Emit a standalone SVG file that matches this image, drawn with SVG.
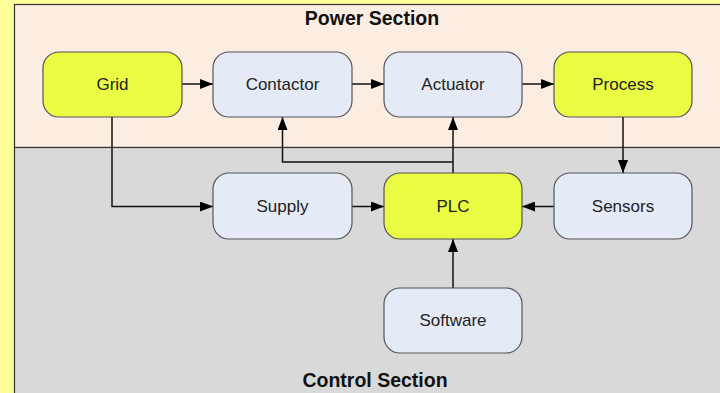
<svg xmlns="http://www.w3.org/2000/svg" width="720" height="393" viewBox="0 0 720 393">
  <defs>
    <marker id="arrow" markerWidth="13" markerHeight="10" refX="13" refY="5" orient="auto" markerUnits="userSpaceOnUse">
      <path d="M0,0 L13,5 L0,10 Z" fill="#000"/>
    </marker>
    <style>
      .node { stroke: #555; stroke-width: 1.2; }
      .blue { fill: #E4EBF6; }
      .yellow { fill: #E9FB42; }
      .label { font-family: "Liberation Sans", Arial, sans-serif; font-size: 17px; fill: #222; text-anchor: middle; dominant-baseline: central; }
      .title { font-family: "Liberation Sans", Arial, sans-serif; font-size: 19.5px; font-weight: bold; fill: #111; text-anchor: middle; }
      .wire { fill: none; stroke: #111; stroke-width: 1.5; }
    </style>
  </defs>

  <!-- page background -->
  <rect x="0" y="0" width="720" height="393" fill="#FFFF99"/>

  <!-- swimlanes -->
  <g id="power-section">
    <rect x="14.5" y="4.5" width="720" height="143" fill="#FCEDE3" stroke="#333" stroke-width="1.2"/>
    <text class="title" x="372" y="25">Power Section</text>
  </g>
  <g id="control-section">
    <rect x="14.5" y="147.5" width="720" height="260" fill="#D9D9D9" stroke="#333" stroke-width="1.2"/>
    <text class="title" x="375" y="387">Control Section</text>
  </g>

  <!-- connectors -->
  <g id="connectors">
    <path class="wire" d="M182,84 H213" marker-end="url(#arrow)"/>
    <path class="wire" d="M352,84 H384" marker-end="url(#arrow)"/>
    <path class="wire" d="M522,84 H554" marker-end="url(#arrow)"/>
    <path class="wire" d="M112,117 V206.5 H213" marker-end="url(#arrow)"/>
    <path class="wire" d="M352,206.5 H384" marker-end="url(#arrow)"/>
    <path class="wire" d="M554,206.5 H522" marker-end="url(#arrow)"/>
    <path class="wire" d="M623,117 V173" marker-end="url(#arrow)"/>
    <path class="wire" d="M453,173 V117" marker-end="url(#arrow)"/>
    <path class="wire" d="M453,162 H282.5 V117" marker-end="url(#arrow)"/>
    <path class="wire" d="M453,288 V239" marker-end="url(#arrow)"/>
  </g>

  <!-- nodes -->
  <g id="grid">
    <rect class="node yellow" x="43" y="52" width="139" height="65" rx="16"/>
    <text class="label" x="112.5" y="84">Grid</text>
  </g>
  <g id="contactor">
    <rect class="node blue" x="213" y="52" width="139" height="65" rx="16"/>
    <text class="label" x="282.5" y="84">Contactor</text>
  </g>
  <g id="actuator">
    <rect class="node blue" x="384" y="52" width="138" height="65" rx="16"/>
    <text class="label" x="453" y="84">Actuator</text>
  </g>
  <g id="process">
    <rect class="node yellow" x="554" y="52" width="138" height="65" rx="16"/>
    <text class="label" x="623" y="84">Process</text>
  </g>
  <g id="supply">
    <rect class="node blue" x="213" y="173" width="139" height="66" rx="16"/>
    <text class="label" x="282.5" y="206">Supply</text>
  </g>
  <g id="plc">
    <rect class="node yellow" x="384" y="173" width="138" height="66" rx="16"/>
    <text class="label" x="453" y="206">PLC</text>
  </g>
  <g id="sensors">
    <rect class="node blue" x="554" y="173" width="138" height="66" rx="16"/>
    <text class="label" x="623" y="206">Sensors</text>
  </g>
  <g id="software">
    <rect class="node blue" x="384" y="288" width="138" height="65" rx="16"/>
    <text class="label" x="453" y="320">Software</text>
  </g>
</svg>
